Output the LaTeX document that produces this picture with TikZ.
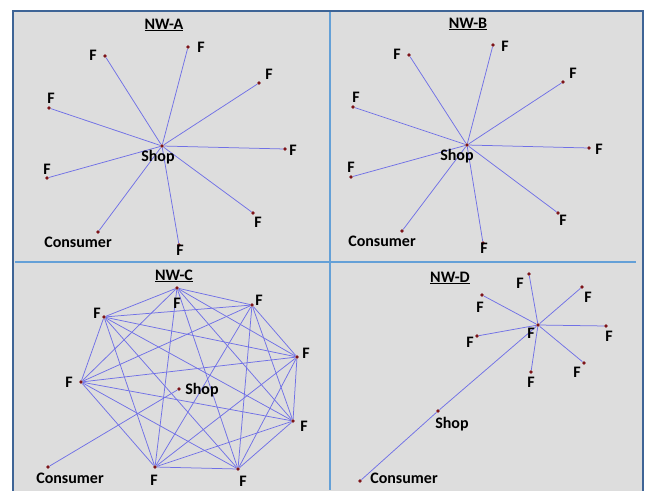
\documentclass[tikz,border=0pt]{standalone}
\usepackage{fontspec}
\setmainfont{Carlito}
\definecolor{bg}{RGB}{221,221,221}
\definecolor{framec}{RGB}{62,100,150}
\definecolor{divc}{RGB}{100,160,215}
\definecolor{edgec}{RGB}{112,112,230}
\definecolor{dotc}{RGB}{125,20,25}
\tikzset{
  dot/.style={circle,fill=dotc,draw=none,inner sep=0pt,minimum size=3.6pt},
  lbl/.style={font=\bfseries\fontsize{16}{16}\selectfont,inner sep=0pt,anchor=base},
  ttl/.style={font=\bfseries\fontsize{16}{16}\selectfont,inner sep=0pt,anchor=base},
  edge/.style={draw=edgec,line width=0.75pt},
  framebox/.style={draw=framec,line width=2.2pt,fill=bg},
  divline/.style={draw=divc,line width=1.1pt}
}
\begin{document}
\begin{tikzpicture}[x=1pt,y=-1pt]
\useasboundingbox (0,0) rectangle (645,490);
\clip (0,0) rectangle (645,490);
\fill[white] (0,0) rectangle (645,490);
\path[framebox] (13,11) rectangle (643,505);
\coordinate (vt) at (330,12);
\coordinate (vb) at (330,490);
\coordinate (hl) at (15,262);
\coordinate (hr) at (636,262);
\draw[divline] (vt) -- (vb);
\draw[divline] (hl) -- (hr);

% ---------------- NW-A ----------------
\node[ttl] (tA) at (164,29) {\underline{NW-A}};
\node[dot] (aS) at (162,146) {};
\node[dot] (a1) at (105,56) {};
\node[dot] (a2) at (188,47) {};
\node[dot] (a3) at (259,83) {};
\node[dot] (a4) at (49,108) {};
\node[dot] (a5) at (285,149) {};
\node[dot] (a6) at (47,178) {};
\node[dot] (a7) at (253,213) {};
\node[dot] (a8) at (179,245) {};
\node[dot] (aC) at (98,232) {};
\foreach \i in {1,...,8} \draw[edge] (aS) -- (a\i);
\draw[edge] (aS) -- (aC);
\node[lbl] (laS) at (158,161) {Shop};
\node[lbl] (la1) at (93,60) {F};
\node[lbl] (la2) at (201,52) {F};
\node[lbl] (la3) at (269,79) {F};
\node[lbl] (la4) at (51,103) {F};
\node[lbl] (la5) at (293,155) {F};
\node[lbl] (la6) at (47,174) {F};
\node[lbl] (la7) at (258,227) {F};
\node[lbl] (la8) at (180,255) {F};
\node[lbl] (laC) at (78,247) {Consumer};

% ---------------- NW-B ----------------
\node[ttl] (tB) at (468,28) {\underline{NW-B}};
\node[dot] (bS) at (467,145) {};
\node[dot] (b1) at (409,55) {};
\node[dot] (b2) at (493,45) {};
\node[dot] (b3) at (563,82) {};
\node[dot] (b4) at (353,107) {};
\node[dot] (b5) at (589,148) {};
\node[dot] (b6) at (351,177) {};
\node[dot] (b7) at (558,213) {};
\node[dot] (b8) at (483,243) {};
\node[dot] (bC) at (402,231) {};
\foreach \i in {1,...,8} \draw[edge] (bS) -- (b\i);
\draw[edge] (bS) -- (bC);
\node[lbl] (lbS) at (457,160) {Shop};
\node[lbl] (lb1) at (397,59) {F};
\node[lbl] (lb2) at (505,51) {F};
\node[lbl] (lb3) at (573,78) {F};
\node[lbl] (lb4) at (356,102) {F};
\node[lbl] (lb5) at (599,154) {F};
\node[lbl] (lb6) at (351,172) {F};
\node[lbl] (lb7) at (563,225) {F};
\node[lbl] (lb8) at (484,253) {F};
\node[lbl] (lbC) at (382,246) {Consumer};

% ---------------- NW-C ----------------
\node[ttl] (tC) at (174,280) {\underline{NW-C}};
\node[dot] (c1) at (177,288) {};
\node[dot] (c2) at (252,305) {};
\node[dot] (c3) at (104,317) {};
\node[dot] (c4) at (297,357) {};
\node[dot] (c5) at (81,382) {};
\node[dot] (c6) at (293,421) {};
\node[dot] (c7) at (155,467) {};
\node[dot] (c8) at (238,469) {};
\node[dot] (cS) at (179,389) {};
\node[dot] (cC) at (48,467) {};
\foreach \i in {1,...,8}{
  \foreach \j in {1,...,8}{
    \ifnum\j>\i \draw[edge] (c\i) -- (c\j); \fi
  }
}
\draw[edge] (cS) -- (cC);
\node[lbl] (lc1) at (177,308) {F};
\node[lbl] (lc2) at (259,305) {F};
\node[lbl] (lc3) at (97,318) {F};
\node[lbl] (lc4) at (306,358) {F};
\node[lbl] (lc5) at (69,387) {F};
\node[lbl] (lc6) at (304,431) {F};
\node[lbl] (lc7) at (154,485) {F};
\node[lbl] (lc8) at (243,486) {F};
\node[lbl] (lcS) at (202,394) {Shop};
\node[lbl] (lcC) at (70,483) {Consumer};

% ---------------- NW-D ----------------
\node[ttl] (tD) at (450,282) {\underline{NW-D}};
\node[dot] (dH) at (538,325) {};
\node[dot] (d1) at (529,274) {};
\node[dot] (d2) at (482,295) {};
\node[dot] (d3) at (582,287) {};
\node[dot] (d4) at (477,336) {};
\node[dot] (d5) at (606,326) {};
\node[dot] (d6) at (584,363) {};
\node[dot] (d7) at (531,372) {};
\node[dot] (dS) at (438,411) {};
\node[dot] (dC) at (360,481) {};
\foreach \i in {1,...,7} \draw[edge] (dH) -- (d\i);
\draw[edge] (dH) -- (dS);
\draw[edge] (dS) -- (dC);
\node[lbl] (ldH) at (531,338) {F};
\node[lbl] (ld1) at (520,288) {F};
\node[lbl] (ld2) at (480,312) {F};
\node[lbl] (ld3) at (588,302) {F};
\node[lbl] (ld4) at (470,347) {F};
\node[lbl] (ld5) at (609,341) {F};
\node[lbl] (ld6) at (577,377) {F};
\node[lbl] (ld7) at (531,387) {F};
\node[lbl] (ldS) at (452,428) {Shop};
\node[lbl] (ldC) at (404,483) {Consumer};
\end{tikzpicture}
\end{document}
